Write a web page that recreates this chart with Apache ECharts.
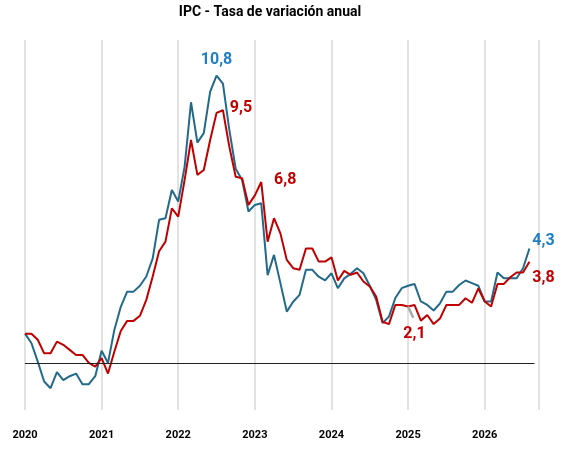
<!DOCTYPE html>
<html><head><meta charset="utf-8">
<script src="https://cdn.jsdelivr.net/npm/echarts@6/dist/echarts.min.js"></script>
<style>html,body{margin:0;padding:0;background:#fff}#c{width:583px;height:463px}</style>
</head><body><div id="c"></div>
<script>
const startYear = 2020;
const yearTicks = ['2020','2021','2022','2023','2024','2025','2026'];
const blue = [1.1,0.75,0.05,-0.7,-0.95,-0.35,-0.65,-0.5,-0.4,-0.8,-0.8,-0.5,
0.46,0.0,1.25,2.11,2.68,2.68,2.9,3.25,3.93,5.38,5.44,6.5,
6.07,7.38,9.8,8.28,8.64,10.2,10.8,10.5,8.76,7.3,6.88,5.69,
5.94,6.0,3.3,4.06,3.0,1.93,2.3,2.56,3.5,3.5,3.24,3.1,
3.37,2.81,3.18,3.35,3.56,3.37,2.9,2.37,1.5,1.74,2.44,2.81,
2.9,2.97,2.31,2.18,1.97,2.24,2.68,2.68,2.93,3.1,3.0,2.9,
2.31,2.31,3.4,3.18,3.18,3.18,3.56,4.3];
const red = [1.1,1.1,0.87,0.36,0.36,0.8,0.68,0.49,0.3,0.3,0.0,-0.14,
0.18,-0.4,0.43,1.2,1.58,1.58,1.77,2.37,3.25,4.2,4.56,5.81,
5.5,6.88,8.38,7.07,7.25,8.38,9.4,9.5,8.13,7.0,6.94,5.94,
6.3,6.8,4.56,5.44,4.87,3.87,3.56,3.5,4.3,4.3,3.81,3.81,
3.97,3.1,3.46,3.31,3.4,3.06,2.87,2.5,1.55,1.46,2.18,2.18,
2.12,2.18,1.59,1.8,1.46,1.67,2.18,2.18,2.18,2.43,2.26,2.8,
2.31,2.12,2.97,2.97,3.22,3.4,3.4,3.8];
const grayIdx = [60, 60.8];
const grayVal = [2.12, 1.7];
const labels = [
  {t:'10,8', i:30, v:10.8, c:'#1f7fc4', dx:0, dy:-16},
  {t:'9,5', i:31, v:9.5, c:'#c00000', dx:18, dy:-2},
  {t:'6,8', i:37, v:6.8, c:'#c00000', dx:24, dy:-2},
  {t:'4,3', i:79, v:4.3, c:'#1f7fc4', dx:14, dy:-8},
  {t:'3,8', i:79, v:3.8, c:'#c00000', dx:14, dy:16},
  {t:'2,1', i:61, v:1.1, c:'#c00000', dx:0, dy:0}
];
const toPairs = a => a.map((v,i)=>[i,v]);
const chart = echarts.init(document.getElementById('c'));
chart.setOption({
  animation:false,
  title:{text:'IPC - Tasa de variación anual',left:265,top:0,textAlign:'center',
    textStyle:{fontFamily:'Roboto',fontSize:14,fontWeight:'bold',color:'#000'}},
  grid:{left:25,right:44,top:40,bottom:53},
  xAxis:{type:'value',min:0,max:80.5,interval:12,
    axisLine:{show:false},axisTick:{show:false},
    splitLine:{show:true,lineStyle:{color:'#d9d9d9',width:1.5}},
    axisLabel:{showMaxLabel:false,margin:20,fontFamily:'Roboto',fontSize:11,fontWeight:'bold',color:'#000',
      formatter:v=>yearTicks[Math.round(v/12)]||''}},
  yAxis:{type:'value',min:-1.77,max:12.14,show:false,splitLine:{show:false}},
  series:[
    {type:'line',data:toPairs(blue),symbol:'none',lineStyle:{color:'#236a8a',width:2},itemStyle:{color:'#236a8a'},
     markLine:{silent:true,symbol:'none',label:{show:false},lineStyle:{color:'#222',width:1,type:'solid'},data:[[{coord:[0,0]},{coord:[79.8,0]}]]}},
    {type:'line',data:toPairs(red),symbol:'none',lineStyle:{color:'#c00000',width:2},itemStyle:{color:'#c00000'},
     markPoint:{symbol:'circle',symbolSize:0,data:labels.map(l=>({coord:[l.i,l.v],label:{show:true,formatter:l.t,color:l.c,fontFamily:'Roboto',fontWeight:'bold',fontSize:16,offset:[l.dx,l.dy]}}))}},
    {type:'line',data:grayIdx.map((x,i)=>[x,grayVal[i]]),symbol:'none',lineStyle:{color:'#aaaaaa',width:2.5}}
  ]
});
</script></body></html>
